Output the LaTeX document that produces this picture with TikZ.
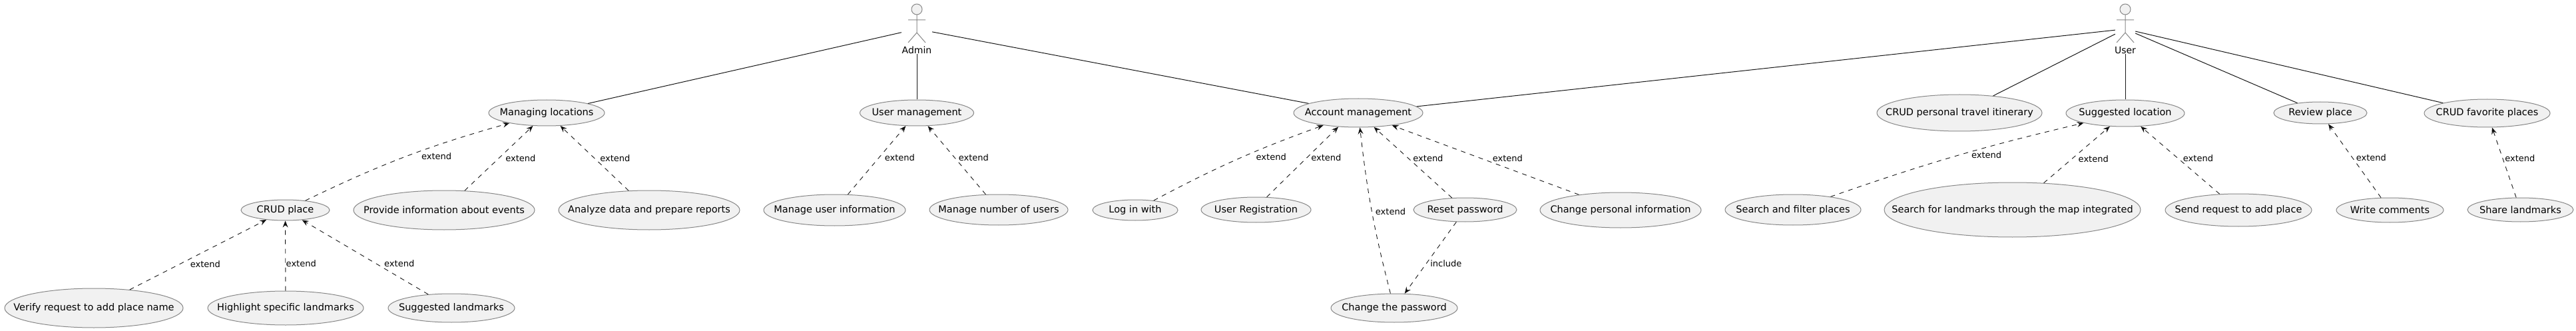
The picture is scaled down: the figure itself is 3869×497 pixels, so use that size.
\documentclass[tikz,border=0pt]{standalone}
\usepackage{fontspec}
\setmainfont{DejaVu Sans}
\usepackage{xcolor}
\usepackage{tikz}
\usetikzlibrary{arrows.meta,shapes.geometric,positioning,calc}
\definecolor{casefill}{HTML}{F1F1F1}
\definecolor{caseline}{HTML}{888888}
\definecolor{edgeline}{HTML}{181818}
\tikzset{usecase/.style={draw=caseline,fill=casefill,ellipse,inner sep=0pt,line width=1pt,font=\fontsize{14.5}{17}\selectfont,
    execute at begin node={\hbox to 0pt\bgroup\hss},execute at end node={\hss\egroup}}}
\tikzset{actor/.style={rectangle,inner sep=0pt,minimum height=75pt}}
\tikzset{actorname/.style={inner sep=0pt,font=\fontsize{14}{17}\selectfont}}
\tikzstyle{assoc}=[draw=edgeline,line width=1pt]
\tikzstyle{ext}=[draw=edgeline,line width=.9pt,dash pattern=on 7pt off 7pt,-{Stealth[length=10pt,width=8pt,inset=3.5pt]}]
\tikzstyle{lbl}=[inner sep=0pt,anchor=west,font=\fontsize{13}{15}\selectfont]
\newcommand{\stickman}[1]{%
    \draw[draw=caseline,fill=casefill,line width=1pt] ($(#1.center)+(0,-29.5)$) circle (8);
    \draw[draw=caseline,line width=1pt] ($(#1.center)+(0,-21.5)$) -- ($(#1.center)+(0,5.5)$)
        ($(#1.center)+(-13,-13.5)$) -- ($(#1.center)+(13,-13.5)$)
        ($(#1.center)+(-13,20.5)$) -- ($(#1.center)+(0,5.5)$) -- ($(#1.center)+(13,20.5)$);
}

\begin{document}
\begin{tikzpicture}[x=1pt,y=-1pt]
    \useasboundingbox (0,0) rectangle (3869,497);
    \fill[white] (0,0) rectangle (3869,497);
    % actors
    \node [actor,minimum width=46pt] (admin) at (1377,43.5) {};
    \node [actor,minimum width=30pt] (user) at (3192,43.5) {};
    \node [actorname,above=0pt of admin.south] (adminname) {Admin};
    \node [actorname,above=0pt of user.south] (username) {User};
    % first row
    \node [usecase,minimum width=174pt,minimum height=39pt] (managing) at (821,169.5) {Managing locations};
    \node [usecase,minimum width=171pt,minimum height=39pt] (usermgmt) at (1377,169.5) {User management};
    \node [usecase,minimum width=194pt,minimum height=43pt] (account) at (2040,169.5) {Account management};
    \node [usecase,minimum width=248pt,minimum height=55pt] (itinerary) at (2943,169.5) {CRUD personal travel itinerary};
    \node [usecase,minimum width=178pt,minimum height=40pt] (suggested) at (3192,170) {Suggested location};
    \node [usecase,minimum width=140pt,minimum height=33pt] (review) at (3485,169.5) {Review place};
    \node [usecase,minimum width=189pt,minimum height=42pt] (favorite) at (3735.5,170) {CRUD favorite places};
    % second row
    \node [usecase,minimum width=133pt,minimum height=31pt] (crudplace) at (428.5,315.5) {CRUD place};
    \node [usecase,minimum width=272pt,minimum height=59pt] (events) at (667,315.5) {Provide information about events};
    \node [usecase,minimum width=272pt,minimum height=59pt] (reports) at (975,315.5) {Analyze data and prepare reports};
    \node [usecase,minimum width=213pt,minimum height=47pt] (userinfo) at (1253.5,315.5) {Manage user information};
    \node [usecase,minimum width=208pt,minimum height=46pt] (usercount) at (1500,315) {Manage number of users};
    \node [usecase,minimum width=128pt,minimum height=31pt] (login) at (1705,315.5) {Log in with};
    \node [usecase,minimum width=165pt,minimum height=38pt] (register) at (1886.5,315) {User Registration};
    \node [usecase,minimum width=155pt,minimum height=36pt] (reset) at (2200.5,315) {Reset password};
    \node [usecase,minimum width=242pt,minimum height=53pt] (personal) at (2434,315.5) {Change personal information};
    \node [usecase,minimum width=204pt,minimum height=46pt] (filter) at (2693,315) {Search and filter places};
    \node [usecase,minimum width=385pt,minimum height=82pt] (mapsearch) at (3022.5,315) {Search for landmarks through the map integrated};
    \node [usecase,minimum width=220pt,minimum height=49pt] (request) at (3362,315.5) {Send request to add place};
    \node [usecase,minimum width=161pt,minimum height=37pt] (comments) at (3589.5,315.5) {Write comments};
    \node [usecase,minimum width=159pt,minimum height=36pt] (share) at (3785.5,315) {Share landmarks};
    % third row
    \node [usecase,minimum width=268pt,minimum height=59pt] (verify) at (141,462.5) {Verify request to add place name};
    \node [usecase,minimum width=234pt,minimum height=51pt] (highlight) at (429,462.5) {Highlight specific landmarks};
    \node [usecase,minimum width=190pt,minimum height=43pt] (landmarks) at (678,462.5) {Suggested landmarks};
    \node [usecase,minimum width=190pt,minimum height=43pt] (changepw) at (2094,462.5) {Change the password};
    % stick figures
    \stickman{admin}
    \stickman{user}
    % associations
    \path[assoc] (admin) -- (managing);
    \path[assoc] (adminname) -- (usermgmt);
    \path[assoc] (admin) -- (account);
    \path[assoc] (user) -- (account);
    \path[assoc] (user) -- (itinerary);
    \path[assoc] (username) -- (suggested);
    \path[assoc] (user) -- (review);
    \path[assoc] (user) -- (favorite);
    % extends
    \path[ext] (crudplace) edge[bend left=5] node[lbl,pos=.51,xshift=21pt] {extend} (managing);
    \path[ext] (events) edge node[lbl,pos=.5,xshift=9.7pt] {extend} (managing);
    \path[ext] (reports) edge node[lbl,pos=.5,xshift=8pt] {extend} (managing);
    \path[ext] (verify) edge node[lbl,pos=.368,xshift=15pt] {extend} (crudplace);
    \path[ext] (highlight) edge node[lbl,pos=.387,xshift=.5pt] {extend} (crudplace);
    \path[ext] (landmarks) edge node[lbl,pos=.414,xshift=12pt] {extend} (crudplace);
    \path[ext] (userinfo) edge node[lbl,pos=.54,xshift=8pt] {extend} (usermgmt);
    \path[ext] (usercount) edge node[lbl,pos=.542,xshift=6pt] {extend} (usermgmt);
    \path[ext] (login) edge[bend left=4] node[lbl,pos=.54,xshift=19pt] {extend} (account);
    \path[ext] (register.50) -- node[lbl,pos=.566,xshift=5.5pt] {extend} (account.215);
    \path[ext] (changepw) edge[bend left=4] node[lbl,pos=.496,xshift=5pt] {extend} (account);
    \path[ext] (reset) edge node[lbl,pos=.557,xshift=6.5pt] {extend} (account);
    \path[ext] (personal) edge node[lbl,pos=.524,xshift=17pt] {extend} (account);
    \path[ext] (reset) edge node[lbl,pos=.58,xshift=5.5pt] {include} (changepw);
    \path[ext] (filter) edge[bend left=3] node[lbl,pos=.52,xshift=16pt] {extend} (suggested);
    \path[ext] (mapsearch) edge node[lbl,pos=.43,xshift=9pt] {extend} (suggested);
    \path[ext] (request) edge node[lbl,pos=.525,xshift=7pt] {extend} (suggested);
    \path[ext] (comments) edge node[lbl,pos=.54,xshift=5pt] {extend} (review);
    \path[ext] (share) edge node[lbl,pos=.56,xshift=3pt] {extend} (favorite);
\end{tikzpicture}
\end{document}
